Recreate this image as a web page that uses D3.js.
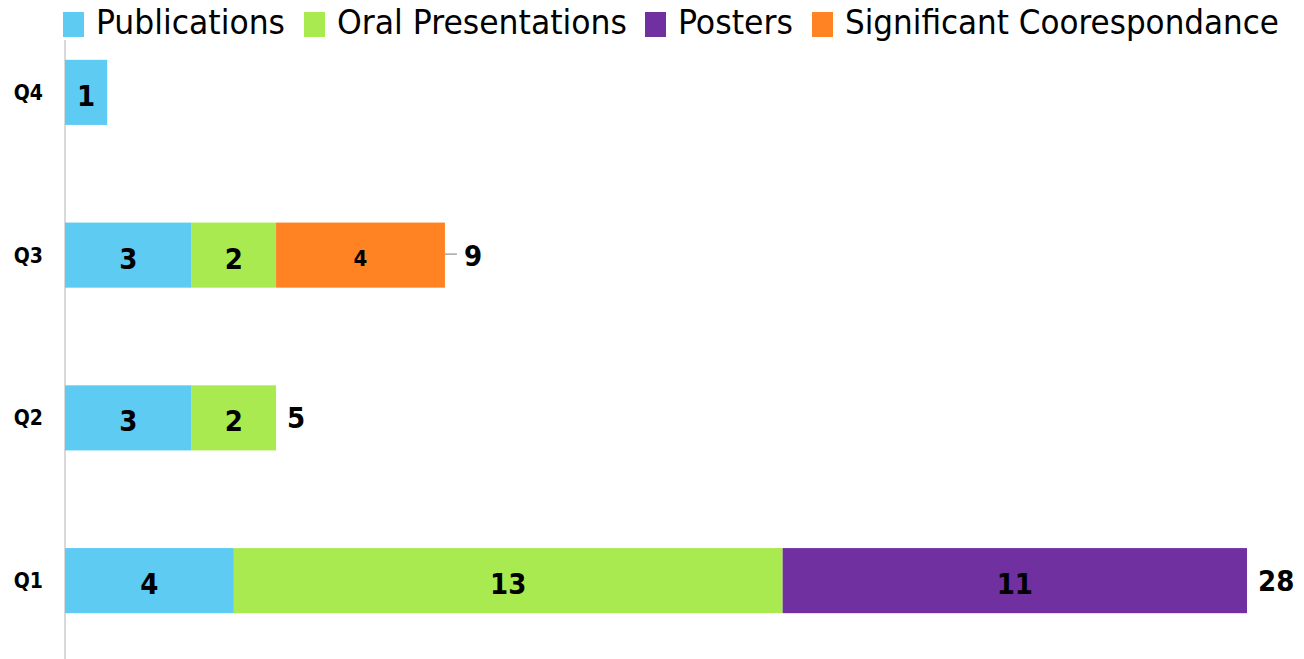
<!DOCTYPE html>
<html>
<head>
<meta charset="utf-8">
<script src="https://cdn.jsdelivr.net/npm/d3@7"></script>
<style>
  body { margin: 0; background: #fff; }
  svg { display: block; font-family: 'Liberation Sans Narrow', 'DejaVu Sans Condensed', 'Open Sans', sans-serif; }
</style>
</head>
<body>
<svg id="chart" width="1304" height="659"></svg>
<script>
// data
const quarters = ['Q1', 'Q2', 'Q3', 'Q4']
const seriesNames = ['Publications', 'Oral Presentations', 'Posters', 'Significant Coorespondance']
const publications = [4, 3, 3, 1]
const oralPresentations = [13, 2, 2, 0]
const posters = [11, 0, 0, 0]
const correspondance = [0, 0, 4, 0]
const totalLabels = ['28', '5', '9', '']
const colors = ['#5ecbf3', '#a9ea50', '#7030a0', '#ff8322']

const svg = d3.select('#chart')

const rows = quarters.map((q, i) => ({
  q: q,
  Publications: publications[i],
  'Oral Presentations': oralPresentations[i],
  Posters: posters[i],
  'Significant Coorespondance': correspondance[i],
  total: totalLabels[i]
}))

const stack = d3.stack().keys(seriesNames)(rows)

const x = d3.scaleLinear()
  .domain([0, 28])
  .range([65, 1247])

const y = d3.scaleBand()
  .domain(quarters.slice().reverse())
  .range([11, 662])
  .paddingInner(0.6)
  .paddingOuter(0.3)

const color = d3.scaleOrdinal().domain(seriesNames).range(colors)

//* * axis line
svg.append('line')
  .attr('x1', x(0)).attr('x2', x(0))
  .attr('y1', 40).attr('y2', 659)
  .attr('stroke', '#d9d9d9')
  .attr('stroke-width', 2)

//* * bars
const layers = svg.selectAll('.layer')
  .data(stack)
  .enter().append('g')
  .attr('class', 'layer')
  .attr('fill', (d) => color(d.key))

layers.selectAll('rect')
  .data((d) => d.filter((s) => s[1] - s[0] > 0))
  .enter().append('rect')
  .attr('x', (d) => x(d[0]))
  .attr('y', (d) => y(d.data.q))
  .attr('width', (d) => x(d[1]) - x(d[0]))
  .attr('height', y.bandwidth())

//* * segment labels
layers.selectAll('text')
  .data((d) => d.filter((s) => s[1] - s[0] > 0).map((s) => ({ s: s, key: d.key })))
  .enter().append('text')
  .attr('x', (d) => (x(d.s[0]) + x(d.s[1])) / 2)
  .attr('y', (d) => y(d.s.data.q) + y.bandwidth() / 2 + 3)
  .attr('dy', '0.36em')
  .attr('text-anchor', 'middle')
  .attr('fill', '#000')
  .attr('font-weight', 'bold')
  .attr('font-size', (d) => d.key === 'Significant Coorespondance' ? 22 : 29)
  .text((d) => d.s[1] - d.s[0])

//* * totals
const last = stack[stack.length - 1]
const totals = svg.selectAll('.total')
  .data(last.filter((s) => s.data.total !== ''))
  .enter().append('g')
  .attr('class', 'total')

totals.filter((d) => d.data.q === 'Q3')
  .append('line')
  .attr('x1', (d) => x(d[1]))
  .attr('x2', (d) => x(d[1]) + 12)
  .attr('y1', (d) => y(d.data.q) + y.bandwidth() / 2 - 1)
  .attr('y2', (d) => y(d.data.q) + y.bandwidth() / 2 - 1)
  .attr('stroke', '#a6a6a6')
  .attr('stroke-width', 1.5)

totals.append('text')
  .attr('x', (d) => x(d[1]) + (d.data.q === 'Q3' ? 19 : 11))
  .attr('y', (d) => y(d.data.q) + y.bandwidth() / 2)
  .attr('dy', '0.36em')
  .attr('font-weight', 'bold')
  .attr('font-size', 29)
  .text((d) => d.data.total)

//* * category labels
svg.selectAll('.cat')
  .data(quarters)
  .enter().append('text')
  .attr('class', 'cat')
  .attr('x', 43)
  .attr('y', (d) => y(d) + y.bandwidth() / 2)
  .attr('dy', '0.36em')
  .attr('text-anchor', 'end')
  .attr('font-weight', 'bold')
  .attr('font-size', 21)
  .text((d) => d)

//* * legend
const legendX = [63, 304, 645, 812]
const legendW = [189, 290, 115, 434]
const legend = svg.selectAll('.legend')
  .data(seriesNames)
  .enter().append('g')
  .attr('class', 'legend')
  .attr('transform', (d, i) => 'translate(' + legendX[i] + ',0)')

legend.append('rect')
  .attr('x', 0).attr('y', 12)
  .attr('width', 21).attr('height', 25)
  .attr('fill', (d) => color(d))

legend.append('text')
  .attr('x', 33)
  .attr('y', 34)
  .attr('font-size', 34)
  .attr('textLength', (d, i) => legendW[i])
  .attr('lengthAdjust', 'spacingAndGlyphs')
  .text((d) => d)
</script>
</body>
</html>
